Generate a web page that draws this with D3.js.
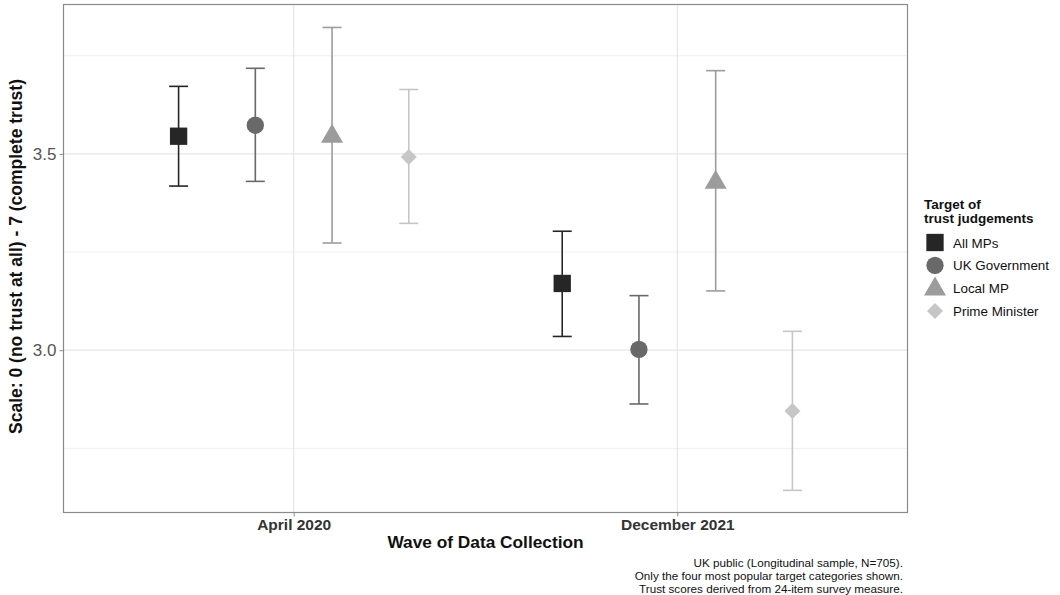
<!DOCTYPE html>
<html>
<head>
<meta charset="utf-8">
<script src="https://cdn.jsdelivr.net/npm/d3@7"></script>
<style>
  body { margin: 0; background: #fff; }
  svg { font-family: "Liberation Sans", Arial, sans-serif; }
</style>
</head>
<body>
<div id="chart"></div>
<script>
// Trust scores by wave and target (mean with error bars)
const waves = ["April 2020", "December 2021"];
const targets = ["All MPs", "UK Government", "Local MP", "Prime Minister"];
const means = [
  [3.545, 3.573, 3.547, 3.492],   // April 2020
  [3.170, 3.002, 3.430, 2.845]    // December 2021
];
const lower = [
  [3.418, 3.430, 3.273, 3.323],
  [3.035, 2.863, 3.151, 2.643]
];
const upper = [
  [3.672, 3.718, 3.822, 3.664],
  [3.303, 3.139, 3.712, 3.048]
];
const yTicks = [3.0, 3.5];
const yMinor = [2.75, 3.25, 3.75];
const captionLines = [
  "UK public (Longitudinal sample, N=705).",
  "Only the four most popular target categories shown.",
  "Trust scores derived from 24-item survey measure."
];

const colors = ["#262626", "#696969", "#9c9c9c", "#c6c6c6"];
const shapes = [d3.symbolSquare, d3.symbolCircle, d3.symbolTriangle, d3.symbolSquare];
const sizes = [300, 235, 210, 128];
const rot = [0, 0, 0, 45];   // diamond = rotated square

const W = 1060, H = 595;
const panel = { left: 63.5, right: 907.5, top: 4.5, bottom: 512.5 };

const svg = d3.select("#chart").append("svg")
  .attr("width", W).attr("height", H);

// discrete axis like ggplot: categories at 1..n, expand 0.6
const xc = d3.scaleLinear().domain([0.4, 2.6]).range([panel.left, panel.right]);
const xPos = w => xc(waves.indexOf(w) + 1);
const dodge = d3.scaleBand().domain(targets).range([-0.4, 0.4]);

const y = d3.scaleLinear().domain([2.5866, 3.8805]).range([panel.bottom, panel.top]);

// grid
const grid = svg.append("g");
grid.selectAll(".minor").data(yMinor).join("line")
  .attr("x1", panel.left).attr("x2", panel.right)
  .attr("y1", d => y(d)).attr("y2", d => y(d))
  .attr("stroke", "#efefef").attr("stroke-width", 1);
grid.selectAll(".major").data(yTicks).join("line")
  .attr("x1", panel.left).attr("x2", panel.right)
  .attr("y1", d => y(d)).attr("y2", d => y(d))
  .attr("stroke", "#e6e6e6").attr("stroke-width", 1.2);
grid.selectAll(".vmajor").data(waves).join("line")
  .attr("x1", d => xPos(d)).attr("x2", d => xPos(d))
  .attr("y1", panel.top).attr("y2", panel.bottom)
  .attr("stroke", "#e6e6e6").attr("stroke-width", 1.2);

// flatten data
const rows = [];
waves.forEach((w, wi) => targets.forEach((t, ti) => {
  rows.push({ wave: w, target: t, ti, m: means[wi][ti], lo: lower[wi][ti], hi: upper[wi][ti] });
}));
const px = d => xc(waves.indexOf(d.wave) + 1 + dodge(d.target) + dodge.bandwidth() / 2);

// error bars
const capHalf = 9.5;
const eb = svg.append("g").selectAll("g").data(rows).join("g")
  .attr("stroke", d => colors[d.ti]).attr("stroke-width", 1.6).attr("fill", "none");
eb.append("line")
  .attr("x1", px).attr("x2", px)
  .attr("y1", d => y(d.lo)).attr("y2", d => y(d.hi));
eb.append("line")
  .attr("x1", d => px(d) - capHalf).attr("x2", d => px(d) + capHalf)
  .attr("y1", d => y(d.hi)).attr("y2", d => y(d.hi));
eb.append("line")
  .attr("x1", d => px(d) - capHalf).attr("x2", d => px(d) + capHalf)
  .attr("y1", d => y(d.lo)).attr("y2", d => y(d.lo));

// points
svg.append("g").selectAll("path").data(rows).join("path")
  .attr("d", d => d3.symbol(shapes[d.ti], sizes[d.ti])())
  .attr("transform", d => `translate(${px(d)},${y(d.m) + (d.ti === 2 ? 1 : 0)}) rotate(${rot[d.ti]})`)
  .attr("fill", d => colors[d.ti]);

// panel border
svg.append("rect")
  .attr("x", panel.left).attr("y", panel.top)
  .attr("width", panel.right - panel.left).attr("height", panel.bottom - panel.top)
  .attr("fill", "none").attr("stroke", "#8a8a8a").attr("stroke-width", 1.2);

// y axis
const yAxis = svg.append("g")
  .attr("transform", `translate(${panel.left},0)`)
  .call(d3.axisLeft(y).tickValues(yTicks).tickFormat(d3.format(".1f")).tickSize(4).tickPadding(3));
yAxis.select(".domain").remove();
yAxis.selectAll(".tick line").attr("stroke", "#8a8a8a");
yAxis.selectAll(".tick text").attr("fill", "#555").attr("font-size", 17)
  .attr("font-family", "Liberation Sans, Arial, sans-serif");

// x axis
const xAxis = svg.append("g")
  .attr("transform", `translate(0,${panel.bottom})`)
  .call(d3.axisBottom(xc).tickValues([1, 2]).tickFormat(d => waves[d - 1]).tickSize(4).tickPadding(2));
xAxis.select(".domain").remove();
xAxis.selectAll(".tick line").attr("stroke", "#8a8a8a");
xAxis.selectAll(".tick text").attr("fill", "#333").attr("font-size", 15.5).attr("font-weight", "bold")
  .attr("font-family", "Liberation Sans, Arial, sans-serif");

// axis titles
svg.append("text")
  .attr("x", (panel.left + panel.right) / 2).attr("y", 548)
  .attr("text-anchor", "middle").attr("font-size", 17.3).attr("font-weight", "bold").attr("fill", "#111")
  .text("Wave of Data Collection");

svg.append("text")
  .attr("transform", `translate(22,${(panel.top + panel.bottom) / 2 - 2}) rotate(-90)`)
  .attr("text-anchor", "middle").attr("font-size", 17.5).attr("font-weight", "bold").attr("fill", "#111")
  .text("Scale: 0 (no trust at all) - 7 (complete trust)");

// caption
svg.append("g").selectAll("text").data(captionLines).join("text")
  .attr("x", 903).attr("y", (d, i) => 567 + i * 12.8)
  .attr("text-anchor", "end").attr("font-size", 11.7).attr("fill", "#111")
  .text(d => d);

// legend
const legend = svg.append("g").attr("transform", "translate(924,0)");
legend.append("text").attr("x", 0).attr("y", 209)
  .attr("font-size", 13.5).attr("font-weight", "bold").attr("fill", "#111")
  .text("Target of");
legend.append("text").attr("x", 0).attr("y", 223)
  .attr("font-size", 13.5).attr("font-weight", "bold").attr("fill", "#111")
  .text("trust judgements");
const keyY = d3.scalePoint().domain(targets).range([242.5, 311]);
const keys = legend.selectAll(".key").data(targets).join("g")
  .attr("transform", d => `translate(11,${keyY(d)})`);
keys.append("path")
  .attr("d", (d, i) => d3.symbol(shapes[i], sizes[i])())
  .attr("transform", (d, i) => `translate(0,${i === 2 ? 1 : 0}) rotate(${rot[i]})`)
  .attr("fill", (d, i) => colors[i]);
keys.append("text").attr("x", 18).attr("y", 5)
  .attr("font-size", 13.4).attr("fill", "#111").text(d => d);
</script>
</body>
</html>
